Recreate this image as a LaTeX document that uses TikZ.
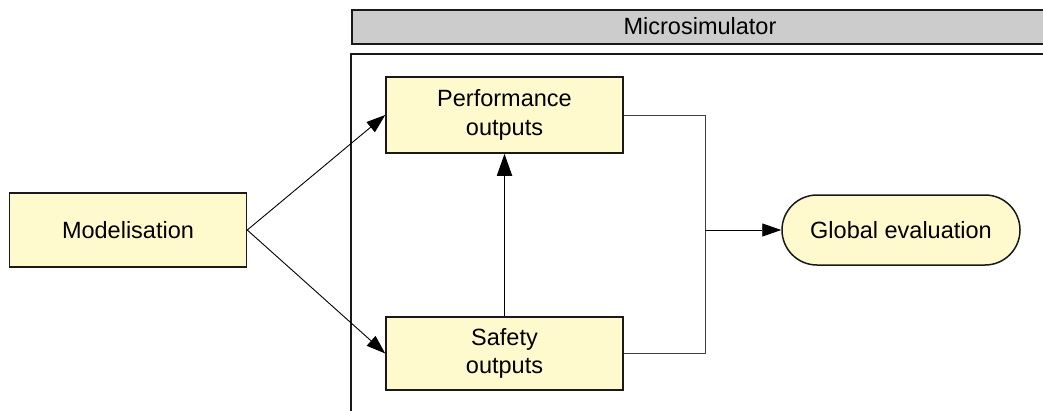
\documentclass[tikz,border=0pt]{standalone}
\usepackage{fontspec}
\setmainfont{Liberation Sans}
\usetikzlibrary{arrows.meta,shapes.misc}
\definecolor{boxyellow}{RGB}{255,249,206}
\definecolor{headgray}{RGB}{204,204,204}
\tikzset{
  procbox/.style={draw=black!90, line width=1.5pt, fill=boxyellow, minimum width=237pt, minimum height=74pt, align=center, inner sep=0pt},
  conn/.style={draw=black, line width=0.9pt},
  flow/.style={conn, -{Triangle[length=19pt,width=13pt]}},
  junc/.style={draw=black!75, line width=1pt},
}
\begin{document}
\begin{tikzpicture}[x=1pt,y=-1pt,font=\fontsize{23.5}{28.5}\selectfont]
\useasboundingbox (0,0) rectangle (1043,410);
\clip (0,0) rectangle (1043,410);
% header
\node[draw=black!90, line width=1.5pt, fill=headgray, minimum width=720pt, minimum height=34pt, inner sep=0pt, anchor=north west] (head) at (351,9) {};
\node (headtxt) at (700,26) {Microsimulator};
% frame
\draw[line width=1.5pt, draw=black!90] (351,412) -- (351,54) -- (1050,54);
% nodes
\node[procbox] (model) at (128,230) {Modelisation};
\node[procbox, minimum height=76pt] (perf) at (504.5,115) {Performance\\outputs};
\node[procbox, minimum height=73pt] (safe) at (504.5,353.5) {Safety\\outputs};
\node[draw=black!90, line width=1.5pt, fill=boxyellow, rounded rectangle, minimum width=238pt, minimum height=70pt, inner sep=0pt] (glob) at (901,230) {Global evaluation};
% connectors
\draw[flow] (model.east) -- (perf.west);
\draw[flow] (model.east) -- (safe.west);
\draw[conn, line width=1.8pt, -{Triangle[length=22pt,width=15pt]}] (safe.north) -- (perf.south);
\coordinate (j) at (705,230);
\draw[junc] (perf.east) -| (j);
\draw[junc] (safe.east) -| (j);
\draw[flow] (j) -- (glob.west);
\end{tikzpicture}
\end{document}
